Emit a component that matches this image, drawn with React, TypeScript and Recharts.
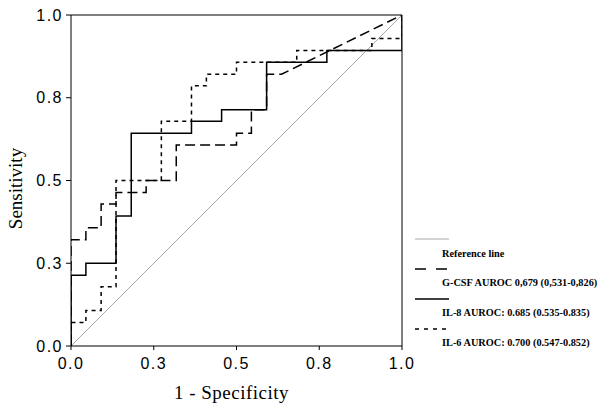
import { LineChart, Line, XAxis, YAxis, ReferenceLine, Legend, Label } from "recharts";

// ROC vertices: [1 - specificity, sensitivity]
const tickValues = [0, 0.25, 0.5, 0.75, 1];
const tickLabels = ["0.0", "0.3", "0.5", "0.8", "1.0"];

const referencePoints = [
  [0, 0],
  [1, 1],
];

const gcsfPoints = [
  [0, 0], [0, 0.321], [0.045, 0.321], [0.045, 0.357], [0.091, 0.357],
  [0.091, 0.429], [0.136, 0.429], [0.136, 0.464], [0.227, 0.464], [0.227, 0.5],
  [0.318, 0.5], [0.318, 0.607], [0.5, 0.607], [0.5, 0.643], [0.545, 0.643],
  [0.545, 0.714], [0.591, 0.714], [0.591, 0.821], [0.636, 0.821], [1, 1],
];

const il8Points = [
  [0, 0], [0, 0.214], [0.045, 0.214], [0.045, 0.25], [0.136, 0.25],
  [0.136, 0.393], [0.182, 0.393], [0.182, 0.643], [0.364, 0.643], [0.364, 0.679],
  [0.455, 0.679], [0.455, 0.714], [0.591, 0.714], [0.591, 0.857], [0.773, 0.857],
  [0.773, 0.893], [1, 0.893], [1, 1],
];

const il6Points = [
  [0, 0], [0, 0.071], [0.045, 0.071], [0.045, 0.107], [0.091, 0.107],
  [0.091, 0.179], [0.136, 0.179], [0.136, 0.5], [0.273, 0.5], [0.273, 0.679],
  [0.364, 0.679], [0.364, 0.786], [0.409, 0.786], [0.409, 0.821], [0.5, 0.821],
  [0.5, 0.857], [0.682, 0.857], [0.682, 0.893], [0.909, 0.893], [0.909, 0.929],
  [1, 0.929], [1, 1],
];

const legendItems = [
  { name: "Reference line", color: "#a8a8a8", width: 1, dash: undefined },
  { name: "G-CSF AUROC 0,679 (0,531-0,826)", color: "#000", width: 1.5, dash: "11 10" },
  { name: "IL-8 AUROC: 0.685 (0.535-0.835)", color: "#000", width: 1.5, dash: undefined },
  { name: "IL-6 AUROC: 0.700 (0.547-0.852)", color: "#000", width: 1.5, dash: "4 5" },
];

const toRows = (points: number[][]) => points.map(([fpr, tpr]) => ({ fpr, tpr }));

const tickStyle = { fill: "#000", fontSize: 16, fontFamily: "Liberation Sans", letterSpacing: 1.5 };
const titleFont = { fontFamily: "Liberation Serif", fontSize: 19, fill: "#000" };

const XTitle = (props: any) => {
  const vb = props.viewBox;
  return (
    <text x={vb.x + vb.width / 2 - 5} y={vb.y + 53} textAnchor="middle" letterSpacing={0.5} {...titleFont}>
      1 - Specificity
    </text>
  );
};

const YTitle = (props: any) => {
  const vb = props.viewBox;
  const cx = vb.x + 15;
  const cy = vb.y + vb.height / 2 + 8;
  return (
    <text x={cx} y={cy} transform={`rotate(-90 ${cx} ${cy})`} textAnchor="middle" dominantBaseline="central" {...titleFont}>
      Sensitivity
    </text>
  );
};

const renderLegend = () => (
  <svg width={187} height={125}>
    {legendItems.map((item, i) => (
      <g key={item.name}>
        <line
          x1={2}
          x2={36}
          y1={10 + i * 30}
          y2={10 + i * 30}
          stroke={item.color}
          strokeWidth={item.width}
          strokeDasharray={item.dash}
        />
        <text
          x={29}
          y={24 + i * 29.7}
          dominantBaseline="central"
          fontFamily="Liberation Serif"
          fontWeight="bold"
          fontSize={10.3}
          fill="#000"
        >
          {item.name}
        </text>
      </g>
    ))}
  </svg>
);

export default function App() {
  return (
    <div style={{ position: "absolute", left: 0, top: 0, width: 600, height: 412, background: "#fff" }}>
      <LineChart width={600} height={412} margin={{ top: 15, right: 198, bottom: 0, left: 0 }}>
        <XAxis
          type="number"
          dataKey="fpr"
          domain={[0, 1]}
          ticks={tickValues}
          tickFormatter={(v: number) => tickLabels[tickValues.indexOf(v)]}
          height={66}
          tickSize={4}
          tickMargin={8}
          tick={tickStyle}
          stroke="#000"
          allowDataOverflow
        >
          <Label content={XTitle} />
        </XAxis>
        <YAxis
          type="number"
          dataKey="tpr"
          domain={[0, 1]}
          ticks={tickValues}
          tickFormatter={(v: number) => tickLabels[tickValues.indexOf(v)]}
          width={71}
          tickSize={5}
          tickMargin={3}
          tick={tickStyle}
          stroke="#000"
          allowDataOverflow
        >
          <Label content={YTitle} />
        </YAxis>
        <ReferenceLine y={1} stroke="#000" strokeWidth={1} />
        <ReferenceLine x={1} stroke="#000" strokeWidth={1} />
        <Line
          data={toRows(referencePoints)}
          dataKey="tpr"
          name="Reference line"
          stroke="#a8a8a8"
          strokeWidth={1}
          dot={false}
          activeDot={false}
          isAnimationActive={false}
        />
        <Line
          data={toRows(il6Points)}
          dataKey="tpr"
          name="IL-6"
          stroke="#000"
          strokeWidth={1.5}
          strokeDasharray="4 4"
          dot={false}
          activeDot={false}
          isAnimationActive={false}
        />
        <Line
          data={toRows(gcsfPoints)}
          dataKey="tpr"
          name="G-CSF"
          stroke="#000"
          strokeWidth={1.5}
          strokeDasharray="10 5"
          dot={false}
          activeDot={false}
          isAnimationActive={false}
        />
        <Line
          data={toRows(il8Points)}
          dataKey="tpr"
          name="IL-8"
          stroke="#000"
          strokeWidth={1.5}
          dot={false}
          activeDot={false}
          isAnimationActive={false}
        />
        <Legend
          layout="vertical"
          align="center"
          verticalAlign="middle"
          content={renderLegend}
          wrapperStyle={{ left: 413, top: 229, width: 187, height: 125 }}
        />
      </LineChart>
    </div>
  );
}
